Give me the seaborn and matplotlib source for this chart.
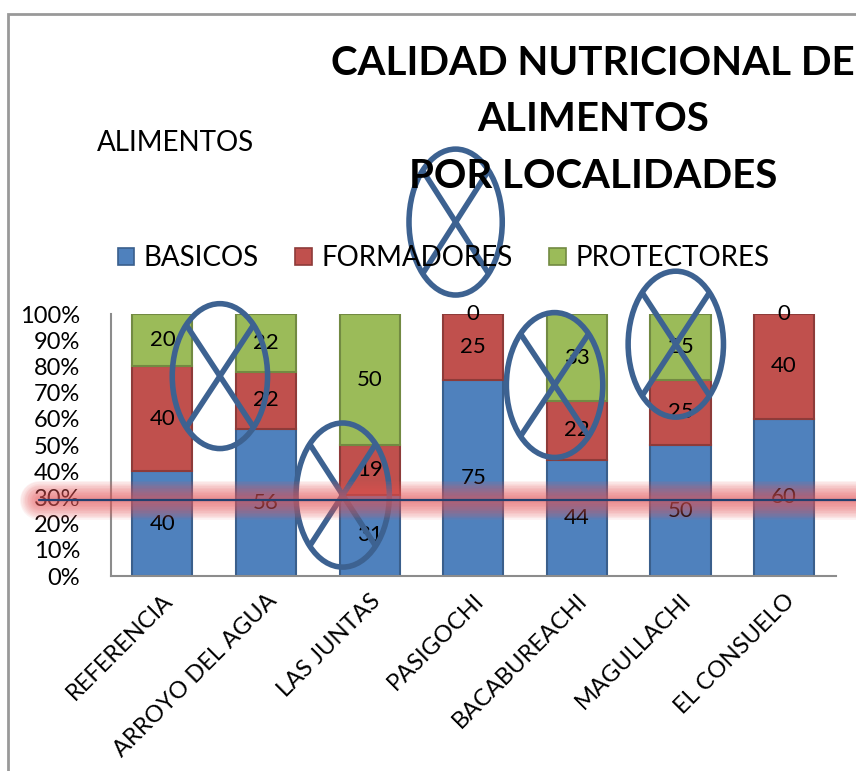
import numpy as np
import pandas as pd
import matplotlib
matplotlib.use('Agg')
import matplotlib.pyplot as plt
import matplotlib.transforms as mtransforms
from matplotlib.patches import Ellipse, Patch, Rectangle
from matplotlib.lines import Line2D
import seaborn as sns

# data
localidades = ['REFERENCIA', 'ARROYO DEL AGUA', 'LAS JUNTAS', 'PASIGOCHI',
               'BACABUREACHI', 'MAGULLACHI', 'EL CONSUELO']
basicos = [40, 56, 31, 75, 44, 50, 60]
formadores = [40, 22, 19, 25, 22, 25, 40]
protectores = [20, 22, 50, 0, 33, 25, 0]
series = ['BASICOS', 'FORMADORES', 'PROTECTORES']
yticks = [0, 10, 20, 30, 40, 50, 60, 70, 80, 90, 100]
title = 'CALIDAD NUTRICIONAL DE\nALIMENTOS\nPOR LOCALIDADES'

# hand drawn marks over the chart: (x centre, y centre, width, height) in axis units
crosses = [(0.555, 76.3, 0.92, 55.3),
           (2.83, 135.1, 0.90, 55.7),
           (1.74, 30.9, 0.90, 55.0),
           (3.785, 72.9, 0.93, 55.3),
           (4.955, 88.5, 0.92, 55.7)]
ref_line = 29.0

colors = ['#4F81BD', '#C0504D', '#9BBB59']
edges = ['#3A5F8C', '#8E3B39', '#728A42']
mark_col = '#3D6291'

sns.set_style('white')
plt.rcParams['font.family'] = ['Lato', 'DejaVu Sans']
plt.rcParams['text.color'] = 'black'
plt.rcParams['xtick.color'] = 'black'
plt.rcParams['ytick.color'] = 'black'

fig = plt.figure(figsize=(8.56, 7.71), dpi=100)
ax = fig.add_axes([0.1292, 0.2529, 0.8473, 0.3398])

df = pd.DataFrame({'loc': localidades, 'BASICOS': basicos,
                   'FORMADORES': formadores, 'PROTECTORES': protectores})
# 100% stacked: each column scaled to its own total
total = df[series].sum(axis=1)
bottom = np.zeros(len(df))
for s, c, e in zip(series, colors, edges):
    pct = df[s] / total * 100
    sns.barplot(x=df['loc'], y=pct, bottom=bottom, color=c, width=0.58,
                edgecolor=e, linewidth=1.5, saturation=1, ax=ax)
    bottom = bottom + pct.to_numpy()

for cont, s in zip(ax.containers, series):
    for p in cont.patches:
        if p.get_height() == 0:
            p.set_linewidth(0)
    ax.bar_label(cont, labels=[str(v) for v in df[s]], label_type='center',
                 fontsize=16, color='black')

ax.set_xlim(-0.5, 6.5)
ax.set_ylim(0, 100)
ax.set_yticks(yticks)
ax.set_yticklabels([f'{t}%' for t in yticks], fontsize=17)
ax.set_xlabel('')
ax.set_ylabel('')
ax.tick_params(axis='y', length=0, pad=22)
ax.tick_params(axis='x', length=0, pad=10)
plt.setp(ax.get_xticklabels(), rotation=45, ha='right', va='top',
         rotation_mode='anchor', fontsize=17)
for side in ['top', 'right']:
    ax.spines[side].set_visible(False)
for side in ['left', 'bottom']:
    ax.spines[side].set_color('#8C8C8C')
    ax.spines[side].set_linewidth(1.5)

# red glow line, built from stacked soft strokes
trans = mtransforms.blended_transform_factory(fig.transFigure, ax.transData)
for lw in range(28, 1, -2):
    fig.add_artist(Line2D([0.045, 1.02], [ref_line, ref_line], transform=trans,
                          color='#E8585A', lw=lw, alpha=0.075,
                          solid_capstyle='round', zorder=10))
fig.add_artist(Line2D([0.045, 1.0], [ref_line, ref_line], transform=trans,
                      color='#23406F', lw=1.6, zorder=11))

# ellipses with crosses
for cx, cy, w, h in crosses:
    ax.add_patch(Ellipse((cx, cy), w, h, fill=False, edgecolor=mark_col,
                         lw=4, clip_on=False, zorder=12))
    dx, dy = w / 2 * 0.707, h / 2 * 0.707
    ax.plot([cx - dx, cx + dx], [cy + dy, cy - dy], color=mark_col, lw=4,
            clip_on=False, zorder=12, solid_capstyle='butt')
    ax.plot([cx - dx, cx + dx], [cy - dy, cy + dy], color=mark_col, lw=4,
            clip_on=False, zorder=12, solid_capstyle='butt')

# legend
handles = [Patch(facecolor=c, edgecolor=e, lw=1.2) for c, e in zip(colors, edges)]
fig.legend(handles, series, loc='center', bbox_to_anchor=(0.518, 0.665),
           ncol=3, frameon=False, fontsize=20, handlelength=0.6,
           handleheight=0.6, handletextpad=0.35, columnspacing=1.3)

fig.text(0.693, 0.845, title, ha='center', va='center', fontsize=29,
         fontweight='bold', linespacing=1.65)
fig.text(0.113, 0.815, 'ALIMENTOS', ha='left', va='center', fontsize=20)

# outer chart frame
fig.add_artist(Rectangle((8 / 856, -0.1), 1.2, 1 - 13.5 / 771 + 0.1,
                         transform=fig.transFigure, fill=False,
                         edgecolor='#999999', lw=2))

fig.savefig('out.png', dpi=100)
plt.close()
